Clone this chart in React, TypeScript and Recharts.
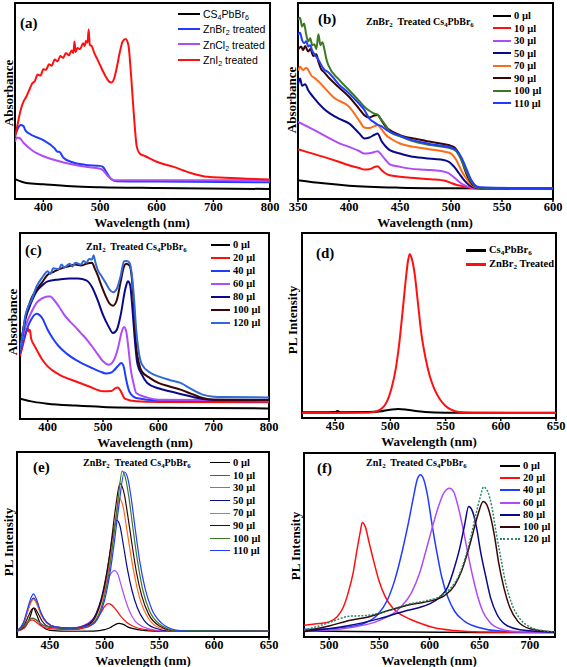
import React from "react";
import { Line, LineChart, ReferenceArea, XAxis, YAxis } from "recharts";

type Pt = [number, number];

const serif = '"Liberation Serif", "Times New Roman", serif';
const sans = '"Liberation Sans", Arial, sans-serif';

// ---- (a) absorbance, different treatments ----
const aTicks = [400, 500, 600, 700, 800];
const aCs4: Pt[] = [[350, 10.1], [370, 8.2], [400, 7.5], [450, 6.5], [500, 6.0], [600, 5.6], [800, 5.1]];
const aZnBr: Pt[] = [[350, 32.1], [355, 36], [360, 37.7], [365, 37.2], [368, 35.2], [375, 33.4], [400, 30], [420, 25.8], [425, 24.1], [428, 24.1], [435, 21.2], [450, 18.9], [475, 17.4], [500, 16.9], [505, 16.4], [512, 13.3], [520, 10.1], [530, 9.0], [600, 8.9], [800, 8.5]];
const aZnCl: Pt[] = [[350, 29.2], [353, 31.4], [358, 31.1], [365, 28.7], [380, 24.9], [400, 21.8], [425, 19.5], [450, 17.7], [475, 16.4], [500, 15.4], [505, 14.7], [515, 11.3], [525, 9.6], [800, 9.6]];
const aZnI: Pt[] = [[350, 31.7], [355, 38.6], [360, 45.4], [365, 49.7], [370, 52.2], [375, 55.5], [380, 58.8], [385, 60.2], [390, 63.5], [395, 63.0], [400, 66.2], [405, 66.0], [410, 68.8], [415, 68.0], [420, 71.2], [425, 70.2], [430, 72.9], [435, 72.0], [440, 74.5], [445, 73.3], [450, 75.8], [453, 74.5], [455, 80.3], [457, 75.0], [460, 77.0], [465, 76.5], [470, 79.5], [473, 78.0], [475, 80.6], [478, 79.8], [480, 86.5], [482, 78.5], [485, 78.2], [490, 74.4], [495, 71.5], [500, 68.4], [505, 65.3], [510, 62.5], [515, 60.2], [520, 59.4], [525, 61.5], [530, 67.6], [535, 75.0], [540, 80.4], [545, 81.6], [550, 78.7], [555, 62.5], [560, 42], [565, 26.6], [570, 23.2], [580, 21.8], [600, 19], [630, 16.4], [660, 13.3], [690, 11.3], [720, 10.8], [800, 10]];

// ---- (b) ZnBr2 treated absorbance ----
const bTicks = [350, 400, 450, 500, 550, 600];
const b0: Pt[] = [[350, 9.6], [375, 8.0], [400, 6.8], [450, 5.8], [500, 5.5], [600, 5.3]];
const b10: Pt[] = [[350, 25.4], [360, 23.8], [375, 21.5], [390, 19.0], [400, 17.2], [410, 15.8], [415, 15.0], [420, 15.2], [425, 16.3], [428, 16.7], [432, 14.7], [436, 13.0], [440, 12.1], [460, 10.9], [480, 10.1], [495, 9.2], [500, 8.2], [505, 7.3], [510, 6.7], [520, 5.6], [530, 5.3], [600, 5.3]];
const b30: Pt[] = [[350, 39.4], [360, 36.8], [375, 32.6], [390, 28.5], [400, 26.6], [410, 24.5], [415, 23.2], [420, 23.3], [425, 24.0], [428, 24.4], [431, 23.0], [435, 20.5], [440, 17.7], [450, 16.4], [460, 15.5], [475, 14.9], [490, 14.3], [497, 13.3], [502, 11.5], [507, 9.2], [512, 7.3], [520, 5.8], [530, 5.3], [600, 5.3]];
const b50: Pt[] = [[350, 58.5], [352, 61.5], [354, 57.8], [357, 58.6], [360, 55.5], [365, 52.0], [375, 46.2], [390, 41.0], [400, 38.6], [410, 33.5], [415, 30.9], [420, 31.4], [425, 32.8], [428, 33.4], [432, 29.5], [436, 26.8], [440, 24.9], [450, 23.2], [460, 21.8], [475, 20.8], [490, 20.1], [498, 19.0], [503, 16.5], [508, 13.0], [513, 9.5], [518, 7.0], [525, 5.6], [535, 5.3], [600, 5.3]];
const b70: Pt[] = [[350, 65.5], [352, 67.5], [355, 65.8], [358, 67.0], [360, 65.9], [363, 63.0], [367, 61.5], [370, 60.0], [375, 57.3], [385, 51.8], [400, 47.1], [410, 40.0], [415, 36.5], [420, 36.2], [425, 37.2], [428, 37.7], [432, 35.5], [436, 32.8], [442, 30.5], [450, 28.3], [465, 26.5], [480, 25.3], [495, 24.0], [500, 23.2], [505, 20.0], [510, 14.7], [515, 10.5], [520, 7.3], [528, 5.6], [540, 5.3], [600, 5.3]];
const b90: Pt[] = [[350, 76.1], [353, 77.8], [355, 76.0], [357, 78.0], [360, 75.3], [362, 76.5], [365, 73.0], [368, 73.8], [370, 70.0], [373, 66.0], [375, 65.0], [380, 62.0], [390, 57.0], [400, 52.2], [410, 46.0], [415, 42.8], [420, 41.6], [425, 42.6], [428, 42.8], [432, 40.0], [436, 36.9], [442, 34.5], [450, 32.6], [465, 30.7], [480, 29.2], [495, 27.8], [500, 27.1], [505, 25.5], [510, 20.5], [515, 13.0], [522, 7.0], [530, 5.5], [600, 5.3]];
const b100: Pt[] = [[350, 91.5], [352, 92.5], [354, 88.0], [356, 89.5], [358, 84.0], [360, 80.4], [362, 82.0], [364, 78.5], [366, 79.0], [368, 76.5], [370, 84.0], [372, 78.5], [374, 80.0], [376, 76.0], [378, 71.0], [380, 68.0], [390, 61.0], [400, 55.6], [410, 50.0], [415, 47.1], [420, 45.0], [425, 43.5], [428, 43.0], [432, 40.2], [436, 37.5], [440, 34.3], [450, 32.0], [460, 30.0], [480, 27.5], [500, 25.8], [505, 24.5], [510, 20.0], [515, 14.0], [520, 8.7], [528, 5.8], [600, 5.3]];
const b110: Pt[] = [[350, 83.8], [352, 84.8], [354, 81.0], [356, 79.5], [358, 80.5], [360, 77.8], [362, 78.5], [364, 75.5], [366, 74.0], [370, 71.0], [375, 66.5], [380, 64.5], [390, 58.5], [400, 53.9], [410, 48.5], [415, 45.5], [420, 41.0], [425, 39.0], [428, 38.0], [432, 37.0], [436, 35.5], [440, 34.3], [450, 32.3], [460, 30.4], [480, 28.0], [500, 26.3], [505, 25.0], [510, 21.5], [515, 15.5], [520, 9.6], [528, 6.0], [600, 5.3]];

// ---- (c) ZnI2 treated absorbance ----
const cTicks = [400, 500, 600, 700, 800];
const c0: Pt[] = [[350, 10.9], [375, 9.2], [400, 8.2], [450, 7.2], [500, 6.5], [600, 6.0], [800, 5.7]];
const c20: Pt[] = [[350, 33.7], [355, 39.5], [360, 45.3], [364, 48.9], [366, 47.0], [368, 47.8], [370, 43.5], [375, 40.0], [380, 37.3], [390, 32.0], [400, 28.3], [420, 24.0], [450, 20.3], [475, 17.5], [500, 14.9], [515, 15.0], [522, 16.5], [527, 16.9], [532, 15.0], [540, 10.8], [560, 9.5], [600, 9.2], [800, 9.0]];
const c40: Pt[] = [[350, 35.5], [360, 46.2], [370, 53.4], [380, 56.6], [385, 56.0], [390, 54.3], [400, 48.0], [410, 43.0], [420, 39.1], [435, 35.0], [450, 31.9], [465, 29.5], [480, 27.4], [495, 25.5], [505, 24.5], [515, 25.0], [520, 26.2], [527, 28.5], [533, 30.1], [537, 28.5], [542, 21.0], [548, 14.5], [560, 11.3], [600, 10.0], [800, 9.5]];
const c60: Pt[] = [[350, 37.0], [360, 49.8], [370, 57.0], [380, 62.4], [390, 64.8], [400, 65.9], [405, 65.9], [410, 64.5], [420, 60.6], [430, 56.0], [440, 52.5], [450, 49.5], [460, 46.2], [470, 43.0], [480, 39.1], [490, 35.0], [500, 31.0], [510, 29.2], [520, 31.9], [527, 38.0], [533, 46.0], [538, 49.5], [542, 47.0], [546, 38.0], [550, 27.0], [555, 19.4], [560, 14.0], [580, 11.5], [600, 10.4], [800, 10.0]];
const c80: Pt[] = [[350, 37.0], [360, 53.8], [370, 62.4], [380, 68.6], [390, 71.8], [400, 74.0], [420, 75.0], [440, 75.6], [455, 75.6], [470, 74.5], [480, 71.0], [490, 64.2], [500, 56.0], [510, 49.8], [518, 46.2], [525, 48.0], [532, 56.0], [540, 69.5], [545, 74.0], [549, 72.0], [553, 60.0], [557, 44.4], [562, 30.0], [570, 24.0], [580, 19.4], [600, 16.5], [620, 14.9], [650, 12.8], [680, 10.8], [700, 10.4], [800, 10.4]];
const c100: Pt[] = [[350, 37.0], [360, 55.0], [370, 64.5], [380, 69.5], [390, 73.5], [400, 77.6], [410, 79.0], [420, 80.5], [430, 81.5], [440, 82.3], [450, 83.0], [460, 82.5], [470, 83.5], [480, 84.0], [485, 81.0], [490, 77.6], [498, 71.0], [505, 65.9], [512, 62.0], [518, 60.9], [525, 64.0], [532, 74.0], [538, 82.0], [542, 83.5], [548, 82.5], [552, 76.0], [556, 60.0], [560, 39.1], [565, 30.0], [570, 25.6], [585, 22.0], [600, 19.4], [620, 17.5], [640, 15.8], [660, 13.5], [680, 11.3], [700, 10.4], [800, 10.2]];
const c120: Pt[] = [[350, 37.0], [355, 46.0], [360, 56.0], [365, 60.5], [370, 63.4], [380, 71.3], [390, 76.0], [400, 79.5], [405, 78.0], [410, 81.0], [420, 80.5], [425, 83.0], [430, 81.5], [440, 83.5], [445, 82.0], [450, 84.0], [460, 83.0], [465, 85.0], [470, 84.0], [475, 86.0], [480, 85.7], [483, 88.0], [486, 84.5], [490, 80.5], [498, 76.5], [505, 73.1], [512, 69.5], [518, 68.1], [525, 70.0], [532, 77.0], [538, 84.8], [543, 85.0], [548, 84.0], [552, 78.0], [556, 65.0], [560, 48.0], [564, 37.3], [570, 29.5], [585, 25.0], [600, 22.9], [620, 21.0], [640, 19.4], [660, 16.0], [680, 13.1], [700, 12.0], [720, 11.8], [800, 11.6]];

// ---- (d) PL, pristine vs ZnBr2 ----
const dTicks = [450, 500, 550, 600, 650];
const dCs4: Pt[] = [[420, 3.1], [450, 3.2], [452, 3.8], [455, 3.1], [480, 3.2], [490, 3.5], [500, 4.5], [507, 4.9], [515, 4.5], [525, 3.6], [540, 3.0], [560, 2.8], [650, 2.8]];
const dZnBr: Pt[] = [[420, 2.7], [475, 2.8], [485, 3.3], [492, 5.0], [497, 9.0], [501, 16.0], [505, 27.0], [508, 40.0], [511, 57.0], [514, 75.0], [516, 85.0], [517.5, 88.6], [519, 87.0], [522, 78.0], [525, 62.0], [528, 46.0], [532, 32.0], [536, 22.0], [540, 15.5], [545, 10.0], [550, 6.5], [555, 4.5], [562, 3.2], [575, 2.8], [650, 2.7]];

// ---- (e) PL, ZnBr2 series ----
const eTicks = [450, 500, 550, 600, 650];
const e0: Pt[] = [[420, 3.1], [428, 6], [432, 11], [435, 15.6], [438, 12], [442, 6.5], [450, 3.6], [470, 3.1], [490, 3.2], [500, 4.0], [505, 5.0], [509, 6.5], [513, 7.4], [517, 6.8], [522, 5.2], [530, 4.0], [545, 3.2], [650, 3.1]];
const e10: Pt[] = [[420, 3.1], [427, 5], [431, 8.5], [434, 9.3], [437, 8.3], [442, 6], [450, 4.5], [470, 4.0], [485, 5.5], [492, 9.0], [497, 13.5], [500, 16.5], [503, 18.0], [506, 17.5], [510, 15.0], [515, 11.0], [520, 8.0], [527, 5.5], [540, 3.8], [560, 3.1], [650, 3.1]];
const e30: Pt[] = [[420, 3.2], [428, 7], [432, 9.5], [435, 10], [438, 9], [443, 6.5], [450, 5.2], [470, 4.8], [485, 7.5], [492, 12], [497, 19], [501, 27], [505, 33.5], [509, 35.9], [512, 34], [515, 28], [519, 20], [523, 13.5], [528, 8.5], [535, 5.5], [545, 3.8], [560, 3.2], [650, 3.1]];
const e50: Pt[] = [[420, 3.3], [426, 7.5], [430, 14.5], [433, 19.5], [435, 21], [438, 18.5], [442, 12.5], [447, 8], [455, 5.5], [470, 4.8], [485, 7], [492, 12.5], [497, 21], [501, 32], [505, 46], [508, 57], [511, 63.2], [514, 60], [517, 50], [521, 36], [525, 25], [530, 15.5], [536, 9], [545, 5], [560, 3.3], [650, 3.1]];
const e70: Pt[] = [[420, 3.3], [426, 7.5], [430, 14.5], [433, 19], [435, 20.5], [438, 18], [442, 12], [447, 7.5], [455, 5.3], [470, 4.7], [485, 6.5], [492, 11], [497, 19], [502, 31], [506, 46], [510, 63], [513.5, 74.9], [517, 70], [520, 59], [524, 44], [528, 31], [533, 19], [540, 10], [550, 5], [565, 3.3], [650, 3.1]];
const e90: Pt[] = [[420, 3.2], [427, 7], [431, 12], [434, 15.3], [436, 15.6], [439, 13], [443, 8.5], [450, 5.5], [470, 4.6], [485, 6.5], [492, 11.5], [497, 20], [502, 34], [506, 51], [510, 70], [514, 82.9], [518, 77], [521, 66], [525, 50], [529, 35], [534, 22], [540, 12.5], [550, 6], [565, 3.4], [650, 3.1]];
const e100: Pt[] = [[420, 3.2], [428, 7], [432, 9.8], [434, 10.2], [437, 9.5], [441, 7.5], [450, 5.3], [470, 4.6], [487, 6.5], [494, 11.5], [499, 20], [504, 35], [508, 53], [512, 73], [516, 89.7], [519, 86], [522, 76], [526, 58], [530, 41], [535, 25], [541, 14], [550, 7], [565, 3.5], [650, 3.1]];
const e110: Pt[] = [[420, 3.3], [426, 8], [430, 16], [433, 21.5], [435, 23.3], [438, 20], [442, 13], [447, 8], [455, 5.5], [470, 4.8], [488, 6.5], [495, 11.5], [500, 20], [505, 35], [509, 52], [513, 71], [518, 89.2], [521, 86], [524, 76], [528, 58], [532, 41], [537, 26], [543, 15], [552, 7.5], [565, 3.8], [580, 3.1], [650, 3.1]];

// ---- (f) PL, ZnI2 series ----
const fTicks = [500, 550, 600, 650, 700];
const f0: Pt[] = [[475, 3.3], [550, 2.8], [650, 2.5], [725, 2.4]];
const f20: Pt[] = [[475, 6.4], [490, 7.3], [500, 8.2], [508, 11], [514, 16], [519, 24], [524, 35], [528, 48], [531, 57], [533, 62.2], [536, 60], [540, 51], [545, 40], [550, 30], [556, 21.8], [563, 16], [570, 12.7], [580, 9.8], [590, 7.6], [605, 5.0], [625, 3.5], [650, 2.7], [725, 2.4]];
const f40: Pt[] = [[475, 4.2], [500, 4.5], [520, 5.5], [535, 7.5], [548, 12], [558, 20], [566, 32], [573, 47], [579, 62], [584, 76], [588, 86], [591, 88.2], [594, 86], [598, 77], [602, 63], [607, 47], [612, 33], [618, 22], [625, 14], [635, 8.5], [650, 5], [670, 3.2], [725, 2.6]];
const f60: Pt[] = [[475, 3.0], [520, 5], [550, 9], [570, 15.5], [582, 24], [590, 34.5], [597, 48], [603, 60], [609, 71], [614, 78], [620, 80.9], [624, 79], [628, 72], [633, 60], [638, 46], [643, 33], [648, 22], [653, 14], [660, 8], [670, 4.5], [685, 3], [725, 2.6]];
const f80: Pt[] = [[475, 3.0], [520, 6.2], [550, 10], [575, 14], [590, 16], [600, 18], [610, 21.5], [618, 27], [625, 38], [630, 48], [635, 61], [639, 70.9], [643, 68], [647, 59], [651, 46], [656, 33], [661, 21], [667, 12.5], [675, 7], [690, 4], [725, 2.6]];
const f100: Pt[] = [[475, 3.2], [500, 6], [520, 9], [540, 11], [560, 14.5], [580, 17.5], [600, 19.5], [615, 22.5], [625, 28], [632, 36], [638, 46], [643, 56], [648, 66], [653.5, 73.6], [657, 72], [661, 65], [665, 54], [669, 40], [674, 27], [680, 16], [688, 8.5], [700, 4.5], [725, 2.7]];
const f120: Pt[] = [[475, 3.8], [490, 6], [505, 8.8], [520, 11.3], [535, 11.6], [550, 13], [565, 15.5], [580, 18], [595, 19.5], [610, 22], [620, 26], [628, 32], [635, 42], [641, 54], [646, 66], [650, 75], [654, 81.5], [658, 79], [662, 71], [666, 58], [671, 43], [676, 29], [682, 18], [690, 10], [700, 5.5], [712, 3.5], [725, 2.8]];

const C = {
  black: "#000000",
  red: "#ff1010",
  blue: "#1f3cff",
  purple: "#b04cf5",
  navy: "#0a0a88",
  orange: "#ff6a1a",
  maroon: "#3a0606",
  green: "#3c7a22",
  steel: "#2f6ad8",
  teal: "#2a8a66",
};

const Sub = ({ children }: { children: React.ReactNode }) => (
  <sub style={{ fontSize: "0.68em", verticalAlign: "-0.3em", lineHeight: 0 }}>{children}</sub>
);

const Cs4 = () => (
  <>
    Cs<Sub>4</Sub>PbBr<Sub>6</Sub>
  </>
);

interface Ser {
  label: React.ReactNode;
  color: string;
  pts: Pt[];
  dash?: string;
}

function Txt({ x, y, size, children, family = serif, weight = 700, center = false, rotate = false }: any) {
  return (
    <div
      style={{
        position: "absolute",
        left: x,
        top: y,
        fontFamily: family,
        fontSize: size,
        fontWeight: weight,
        lineHeight: 1,
        whiteSpace: "nowrap",
        color: "#000",
        transform: rotate
          ? "translate(-50%, -50%) rotate(-90deg)"
          : center
          ? "translate(-50%, -50%)"
          : "translateY(-50%)",
      }}
    >
      {children}
    </div>
  );
}

function LegendRows({ items, x1, x2, tx, y0, step, size, family = serif, weight = 700, lw = 2.5 }: any) {
  return (
    <>
      {items.map((s: Ser, i: number) => (
        <React.Fragment key={i}>
          <div
            style={{
              position: "absolute",
              left: x1,
              top: y0 + i * step - lw / 2,
              width: x2 - x1,
              height: 0,
              borderTop: `${lw}px ${s.dash ? "dotted" : "solid"} ${s.color}`,
            }}
          />
          <Txt x={tx} y={y0 + i * step} size={size} family={family} weight={weight}>
            {s.label}
          </Txt>
        </React.Fragment>
      ))}
    </>
  );
}

function Panel({ left, top, w, h, m, domain, ticks, series, lw, children }: any) {
  return (
    <div style={{ position: "absolute", left, top, width: w, height: h }}>
      <LineChart width={w} height={h} margin={{ top: m.t, right: m.r, left: 0, bottom: 0 }}>
        <XAxis
          type="number"
          dataKey="x"
          domain={domain}
          ticks={ticks}
          interval={0}
          allowDataOverflow
          height={m.b}
          axisLine={false}
          tickLine={{ stroke: "#000", strokeWidth: 1.5 }}
          tickSize={3}
          tickMargin={0}
          tick={{ fill: "#000", fontSize: 12.5, fontWeight: 700, fontFamily: serif }}
        />
        <YAxis type="number" domain={[0, 100]} width={m.l} tick={false} axisLine={false} tickLine={false} />
        <ReferenceArea x1={domain[0]} x2={domain[1]} y1={0} y2={100} fill="none" stroke="#000" strokeWidth={2} />
        {series.map((s: Ser, i: number) => (
          <Line
            key={i}
            data={s.pts.map(([x, y]) => ({ x, y }))}
            dataKey="y"
            type="monotone"
            stroke={s.color}
            strokeWidth={lw}
            strokeDasharray={s.dash}
            dot={false}
            activeDot={false}
            isAnimationActive={false}
          />
        ))}
      </LineChart>
      {children}
    </div>
  );
}

export default function App() {
  const serA: Ser[] = [
    { label: <>CS<Sub>4</Sub>PbBr<Sub>6</Sub></>, color: C.black, pts: aCs4 },
    { label: <>ZnBr<Sub>2</Sub> treated</>, color: C.blue, pts: aZnBr },
    { label: <>ZnCl<Sub>2</Sub> treated</>, color: C.purple, pts: aZnCl },
    { label: <>ZnI<Sub>2</Sub> treated</>, color: C.red, pts: aZnI },
  ];
  const serB: Ser[] = [
    { label: "0 µl", color: C.black, pts: b0 },
    { label: "10 µl", color: C.red, pts: b10 },
    { label: "30 µl", color: C.purple, pts: b30 },
    { label: "50 µl", color: C.navy, pts: b50 },
    { label: "70 µl", color: C.orange, pts: b70 },
    { label: "90 µl", color: C.maroon, pts: b90 },
    { label: "100 µl", color: C.green, pts: b100 },
    { label: "110 µl", color: C.blue, pts: b110 },
  ];
  const serC: Ser[] = [
    { label: "0 µl", color: C.black, pts: c0 },
    { label: "20 µl", color: C.red, pts: c20 },
    { label: "40 µl", color: C.blue, pts: c40 },
    { label: "60 µl", color: C.purple, pts: c60 },
    { label: "80 µl", color: C.navy, pts: c80 },
    { label: "100 µl", color: C.maroon, pts: c100 },
    { label: "120 µl", color: C.steel, pts: c120 },
  ];
  const serD: Ser[] = [
    { label: <Cs4 />, color: C.black, pts: dCs4 },
    { label: <>ZnBr<Sub>2</Sub> Treated</>, color: C.red, pts: dZnBr },
  ];
  const serE: Ser[] = [
    { label: "0 µl", color: C.black, pts: e0 },
    { label: "10 µl", color: C.red, pts: e10 },
    { label: "30 µl", color: C.purple, pts: e30 },
    { label: "50 µl", color: C.navy, pts: e50 },
    { label: "70 µl", color: C.orange, pts: e70 },
    { label: "90 µl", color: C.maroon, pts: e90 },
    { label: "100 µl", color: C.green, pts: e100 },
    { label: "110 µl", color: C.blue, pts: e110 },
  ];
  const serF: Ser[] = [
    { label: "0 µl", color: C.black, pts: f0 },
    { label: "20 µl", color: C.red, pts: f20 },
    { label: "40 µl", color: C.blue, pts: f40 },
    { label: "60 µl", color: C.purple, pts: f60 },
    { label: "80 µl", color: C.navy, pts: f80 },
    { label: "100 µl", color: C.maroon, pts: f100 },
    { label: "120 µl", color: C.teal, pts: f120, dash: "2 1.5" },
  ];

  return (
    <div style={{ position: "absolute", left: 0, top: 0, width: 567, height: 667, background: "#fff", overflow: "hidden" }}>
      {/* (a) */}
      <Panel left={0} top={0} w={283} h={232} m={{ t: 3, r: 13, l: 15, b: 33 }} domain={[350, 800]} ticks={aTicks} series={serA} lw={2}>
        <Txt x={20} y={23} size={15}>(a)</Txt>
        <Txt x={8} y={93} size={13} rotate>Absorbance</Txt>
        <Txt x={142} y={222} size={13} center>Wavelength (nm)</Txt>
        <LegendRows items={serA} x1={178} x2={200} tx={203} y0={14} step={15.3} size={10.5} family={sans} weight={400} />
      </Panel>

      {/* (b) */}
      <Panel left={283} top={0} w={284} h={232} m={{ t: 3, r: 14, l: 15, b: 33 }} domain={[350, 600]} ticks={bTicks} series={serB} lw={2}>
        <Txt x={35} y={19} size={15}>(b)</Txt>
        <Txt x={83} y={22} size={10}>ZnBr<Sub>2</Sub>&nbsp; Treated <Cs4 /></Txt>
        <Txt x={8} y={100} size={13} rotate>Absorbance</Txt>
        <Txt x={142} y={222} size={13} center>Wavelength (nm)</Txt>
        <LegendRows items={serB} x1={210} x2={228} tx={231} y0={16} step={12.5} size={10.5} />
      </Panel>

      {/* (c) */}
      <Panel left={0} top={220} w={283} h={232} m={{ t: 13, r: 14, l: 20, b: 33 }} domain={[350, 800]} ticks={cTicks} series={serC} lw={2}>
        <Txt x={25} y={30} size={15}>(c)</Txt>
        <Txt x={86} y={27} size={10}>ZnI<Sub>2</Sub>&nbsp; Treated <Cs4 /></Txt>
        <Txt x={12} y={102} size={13} rotate>Absorbance</Txt>
        <Txt x={145} y={222} size={13} center>Wavelength (nm)</Txt>
        <LegendRows items={serC} x1={211} x2={230} tx={233} y0={25} step={13} size={10.5} />
      </Panel>

      {/* (d) */}
      <Panel left={283} top={220} w={284} h={232} m={{ t: 13, r: 11, l: 19, b: 34 }} domain={[420, 650]} ticks={dTicks} series={serD} lw={2}>
        <Txt x={33} y={33} size={15}>(d)</Txt>
        <Txt x={9} y={100} size={13} rotate>PL Intensity</Txt>
        <Txt x={146} y={221} size={13} center>Wavelength (nm)</Txt>
        <LegendRows items={serD} x1={183} x2={203} tx={206} y0={30} step={14} size={10.5} lw={3} />
      </Panel>

      {/* (e) */}
      <Panel left={0} top={440} w={283} h={227} m={{ t: 12, r: 14, l: 17, b: 30 }} domain={[420, 650]} ticks={eTicks} series={serE} lw={1.2}>
        <Txt x={33} y={27} size={15}>(e)</Txt>
        <Txt x={83} y={23} size={10}>ZnBr<Sub>2</Sub>&nbsp; Treated <Cs4 /></Txt>
        <Txt x={8} y={102} size={13} rotate>PL Intensity</Txt>
        <Txt x={143} y={219.5} size={13} center>Wavelength (nm)</Txt>
        <LegendRows items={serE} x1={210} x2={230} tx={233} y0={23} step={12.6} size={10.5} lw={1.5} />
      </Panel>

      {/* (f) */}
      <Panel left={283} top={440} w={284} h={227} m={{ t: 13, r: 12, l: 21, b: 30 }} domain={[475, 725]} ticks={fTicks} series={serF} lw={1.5}>
        <Txt x={34} y={28} size={15}>(f)</Txt>
        <Txt x={83} y={23} size={10}>ZnI<Sub>2</Sub>&nbsp; Treated <Cs4 /></Txt>
        <Txt x={12} y={106} size={13} rotate>PL Intensity</Txt>
        <Txt x={146} y={219.5} size={13} center>Wavelength (nm)</Txt>
        <LegendRows items={serF} x1={217} x2={237} tx={240} y0={26} step={12.2} size={10.5} lw={2} />
      </Panel>
    </div>
  );
}
